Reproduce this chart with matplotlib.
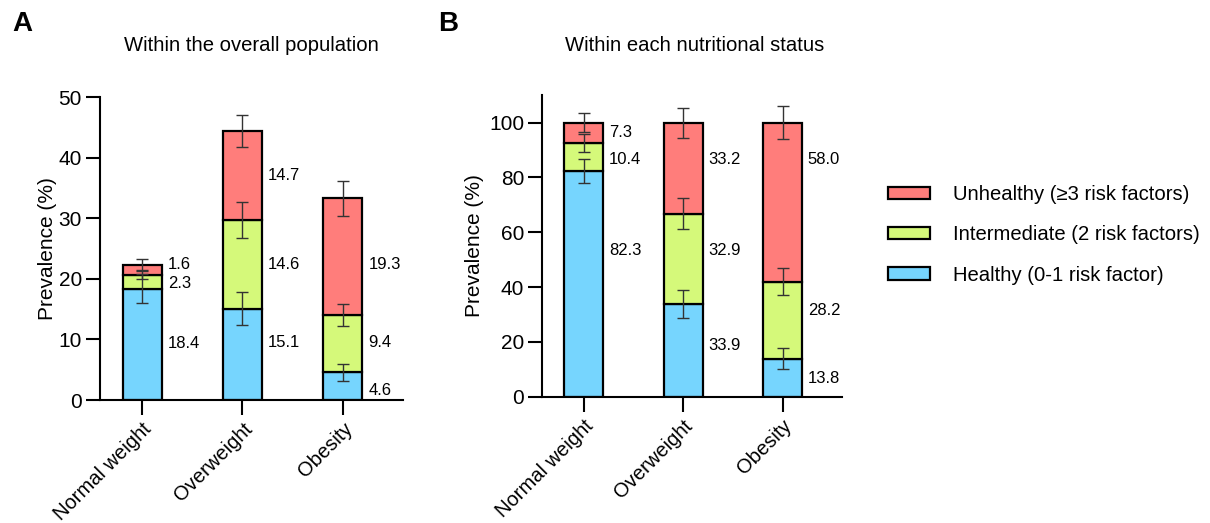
import matplotlib.pyplot as plt
import numpy as np

plt.rcParams['font.family'] = ['Liberation Sans', 'DejaVu Sans']

groups = ['Normal weight', 'Overweight', 'Obesity']
series = ['Healthy (0-1 risk factor)', 'Intermediate (2 risk factors)', 'Unhealthy (≥3 risk factors)']
colors = ['#76D5FE', '#D5F97A', '#FF7D7B']

# panel A: share of overall population
a_healthy = [18.4, 15.1, 4.6]
a_inter = [2.3, 14.6, 9.4]
a_unhealthy = [1.6, 14.7, 19.3]
a_err_healthy = [2.4, 2.7, 1.4]
a_err_inter = [0.8, 3.0, 1.8]
a_err_unhealthy = [1.0, 2.7, 2.9]

# panel B: share within each nutritional status
b_healthy = [82.3, 33.9, 13.8]
b_inter = [10.4, 32.9, 28.2]
b_unhealthy = [7.3, 33.2, 58.0]
b_err_healthy = [4.4, 5.2, 3.8]
b_err_inter = [3.3, 5.6, 5.0]
b_err_unhealthy = [3.6, 5.5, 5.9]

# label nudges from segment middle (data units), [series][group]
a_nudge = [[0.1, 2.0, -0.65], [-0.35, 0.0, 0.2], [0.9, 0.0, -1.25]]
b_nudge = [[12.2, 1.9, -0.2], [-1.1, 2.9, 3.7], [0.0, 3.0, 15.4]]


def draw(ax, vals, errs, nudges, ymax, lpad):
    x = np.arange(len(groups))
    w = 0.39
    bottom = np.zeros(len(groups))
    for i, (v, e) in enumerate(zip(vals, errs)):
        v = np.array(v)
        ax.bar(x, v, w, bottom=bottom, color=colors[i], edgecolor='black',
               linewidth=1.6, label=series[i], zorder=2)
        top = bottom + v
        ax.errorbar(x, top, yerr=e, fmt='none', ecolor='#333333', elinewidth=1.0,
                    capsize=4, capthick=1.0, zorder=3)
        for j in range(len(groups)):
            ax.text(x[j] + w / 2 + 0.06, bottom[j] + v[j] / 2 + nudges[i][j],
                    f'{v[j]:.1f}', va='center', ha='left', fontsize=12)
        bottom = top
    ax.set_xlim(-0.42, 2.6)
    ax.set_ylim(0, ymax)
    ax.spines['top'].set_visible(False)
    ax.spines['right'].set_visible(False)
    ax.spines['left'].set_linewidth(1.5)
    ax.spines['bottom'].set_linewidth(1.5)
    ax.set_xticks(x)
    ax.set_xticklabels(groups, rotation=45, ha='right', rotation_mode='anchor', fontsize=14.5)
    ax.tick_params(axis='x', length=11, width=1.5, pad=3)
    ax.tick_params(axis='y', length=10, width=1.5, labelsize=15, pad=3)
    ax.set_ylabel('Prevalence (%)', fontsize=15, labelpad=lpad)


fig = plt.figure(figsize=(12.1, 5.23), dpi=100)
axA = fig.add_axes([0.0826, 0.235, 0.2505, 0.5795])
axB = fig.add_axes([0.448, 0.2415, 0.248, 0.5765])

draw(axA, [a_healthy, a_inter, a_unhealthy],
     [a_err_healthy, a_err_inter, a_err_unhealthy], a_nudge, 50, 1)
axA.set_yticks([0, 10, 20, 30, 40, 50])
draw(axB, [b_healthy, b_inter, b_unhealthy],
     [b_err_healthy, b_err_inter, b_err_unhealthy], b_nudge, 110, 3.5)
axB.set_yticks([0, 20, 40, 60, 80, 100])

fig.text(0.208, 0.913, 'Within the overall population', ha='center', va='center', fontsize=14.6)
fig.text(0.574, 0.913, 'Within each nutritional status', ha='center', va='center', fontsize=14.6)
fig.text(0.010, 0.955, 'A', fontsize=20, fontweight='bold', va='center')
fig.text(0.362, 0.955, 'B', fontsize=20, fontweight='bold', va='center')

handles, labels = axB.get_legend_handles_labels()
fig.legend(handles[::-1], labels[::-1], loc='center left', bbox_to_anchor=(0.719, 0.551),
           frameon=False, fontsize=14.6, handlelength=2.05, handleheight=0.55,
           labelspacing=1.05, handletextpad=1.15)

fig.savefig('out.png', dpi=100)
